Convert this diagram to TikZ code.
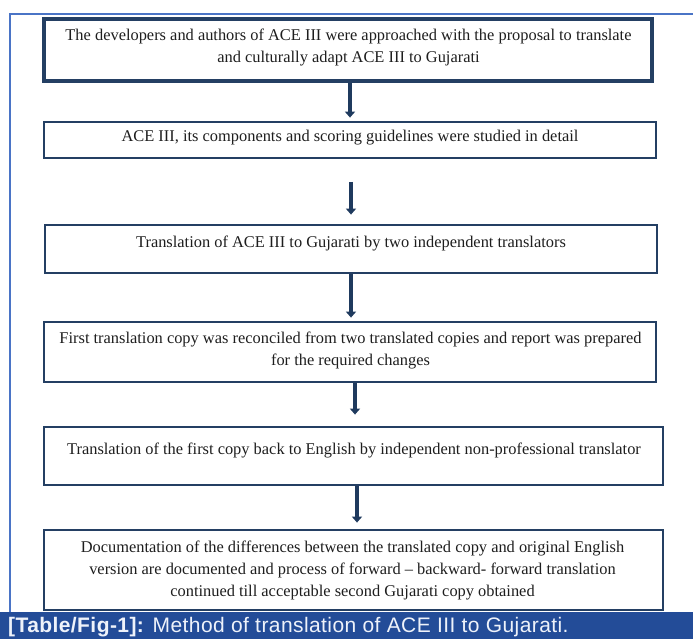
\documentclass[tikz,border=0pt]{standalone}
\usepackage{fontspec}
\setmainfont{Liberation Serif}
\newfontfamily\capfont[LetterSpace=2]{Liberation Sans}
\usetikzlibrary{arrows.meta}
\definecolor{boxline}{HTML}{243F63}
\definecolor{arrowcol}{HTML}{1F3A5E}
\definecolor{framecol}{HTML}{4A74C6}
\definecolor{capbar}{HTML}{234C98}
\definecolor{captext}{HTML}{EEF2FA}
\definecolor{bodytext}{HTML}{1E1E1E}
\tikzset{
  stepbox/.style={draw=boxline, line width=2.8pt, fill=white, inner sep=0pt},
  steptext/.style={text=bodytext, align=center, inner sep=0pt, font=\fontsize{16.4}{22}\selectfont},
  flowarrow/.style={draw=arrowcol, line width=4.5pt, -{Triangle[width=10pt,length=6pt]}},
}
\begin{document}
\begin{tikzpicture}[x=1pt,y=-1pt]
\useasboundingbox (0,0) rectangle (693,639);
% frame
\draw[framecol, line width=1.4pt] (10,612) -- (10,14) -- (693,14);
% boxes
\node[stepbox, line width=3.3pt, minimum width=608pt, minimum height=62pt] (b1) at (348,50) {};
\node[stepbox, minimum width=612pt, minimum height=36pt] (b2) at (350,140) {};
\node[stepbox, minimum width=612pt, minimum height=48pt] (b3) at (351,249) {};
\node[stepbox, minimum width=612pt, minimum height=60pt] (b4) at (350,352) {};
\node[stepbox, minimum width=619pt, minimum height=58pt] (b5) at (353.5,456) {};
\node[stepbox, minimum width=619pt, minimum height=80pt] (b6) at (353.5,570) {};
% texts
\node[steptext] (t1) at (348.5,47) {The developers and authors of ACE III were approached with the proposal to translate\\and culturally adapt ACE III to Gujarati};
\node[steptext] (t2) at (350,138) {ACE III, its components and scoring guidelines were studied in detail};
\node[steptext] (t3) at (351,243) {Translation of ACE III to Gujarati by two independent translators};
\node[steptext] (t4) at (350.5,350) {First translation copy was reconciled from two translated copies and report was prepared\\for the required changes};
\node[steptext] (t5) at (354,450) {Translation of the first copy back to English by independent non-professional translator};
\node[steptext] (t6) at (352.5,570) {Documentation of the differences between the translated copy and original English\\version are documented and process of forward -- backward- forward translation\\continued till acceptable second Gujarati copy obtained};
% arrows
\coordinate (a2s) at (351,182);
\draw[flowarrow] ([xshift=2pt]b1.south) -- ([xshift=0pt,yshift=3pt]b2.north -| 350,0);
\draw[flowarrow] (a2s) -- ([yshift=9pt]b3.north -| a2s);
\draw[flowarrow] (b3.south -| 351,0) -- ([yshift=3pt]b4.north -| 351,0);
\draw[flowarrow] (b4.south -| 355,0) -- ([yshift=11pt]b5.north -| 355,0);
\draw[flowarrow] (b5.south -| 357,0) -- ([yshift=6pt]b6.north -| 357,0);
% caption
\fill[capbar] (0,612) rectangle (693,639);
\node[anchor=west, inner sep=0pt, text=captext, font=\capfont\fontsize{21}{24}\selectfont] (cap) at (8,627) {\textbf{[Table/Fig-1]:} Method of translation of ACE III to Gujarati.};
\end{tikzpicture}
\end{document}
